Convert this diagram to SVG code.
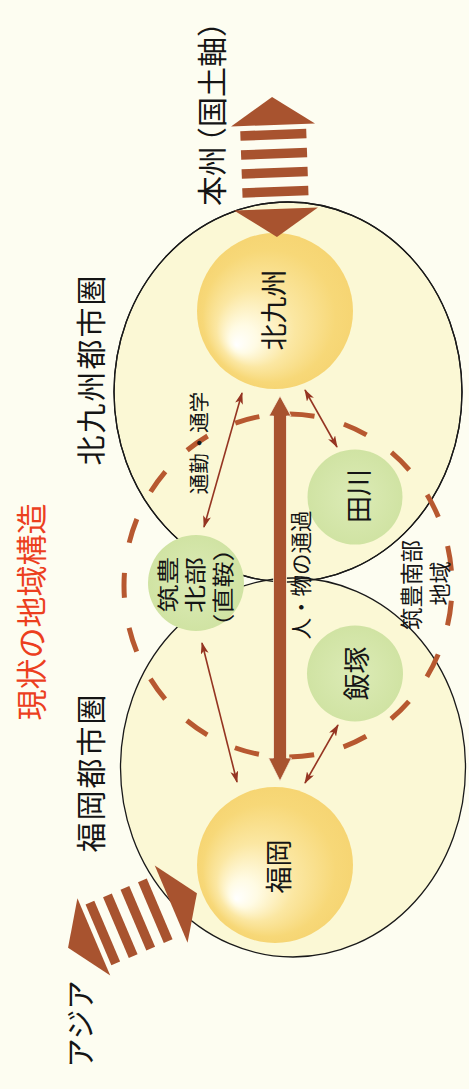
<svg xmlns="http://www.w3.org/2000/svg" width="469" height="1089" viewBox="0 0 469 1089">
<defs>
<style>
.t{font-family:"Noto Sans CJK JP","Noto Sans CJK SC",sans-serif;text-anchor:middle;dominant-baseline:central;fill:#151515}
.area{fill:#fbf8d5;stroke:#1a1a1a;stroke-width:1.3}
.green{fill:url(#grn)}
.thin{fill:none;stroke:#953522;stroke-width:1.6;marker-start:url(#ah);marker-end:url(#ah)}
.brown{fill:#a8532f}
</style>
<radialGradient id="sph" cx="0.5" cy="0.5" r="0.5" fx="0.25" fy="0.72">
<stop offset="0" stop-color="#ffffff"/>
<stop offset="0.18" stop-color="#fffbe4"/>
<stop offset="0.5" stop-color="#fbe7a2"/>
<stop offset="0.85" stop-color="#f7d878"/>
<stop offset="1" stop-color="#f6d573"/>
</radialGradient>
<radialGradient id="grn" cx="0.5" cy="0.5" r="0.5">
<stop offset="0" stop-color="#dcebb6"/>
<stop offset="1" stop-color="#d0e3a3"/>
</radialGradient>
<marker id="ah" viewBox="0 0 12 8" refX="11" refY="4" markerWidth="12" markerHeight="8" markerUnits="userSpaceOnUse" orient="auto-start-reverse">
<path d="M0,0 L12,4 L0,8 L3,4 Z" fill="#953522"/>
</marker>
<g id="striped">
<polygon points="0,-70 42,-42 -42,-42"/>
<rect x="-33" y="-37" width="66" height="9.5"/>
<rect x="-33" y="-18" width="66" height="9.5"/>
<rect x="-33" y="1" width="66" height="9.5"/>
<rect x="-33" y="20" width="66" height="9.5"/>
<polygon points="-42,42 42,42 0,70"/>
</g>
</defs>
<rect x="0" y="0" width="469" height="1089" fill="#fdfdf1"/>

<g id="kitakyushu-area">
<ellipse class="area" cx="288" cy="392" rx="174" ry="190"/>
</g>
<g id="fukuoka-area">
<ellipse class="area" cx="293" cy="767.5" rx="172.5" ry="189.5"/>
<ellipse cx="288" cy="392" rx="174" ry="190" fill="none" stroke="#1a1a1a" stroke-width="1.3"/>
</g>

<g id="kitakyushu">
<circle cx="275" cy="311" r="78" fill="url(#sph)"/>
<text class="t" transform="translate(272,310) rotate(-90)" font-size="27">北九州</text>
</g>
<g id="fukuoka">
<circle cx="275" cy="865" r="78" fill="url(#sph)"/>
<text class="t" transform="translate(277,866.5) rotate(-90)" font-size="27">福岡</text>
</g>
<g id="tagawa">
<circle class="green" cx="355" cy="497" r="47.5"/>
<text class="t" transform="translate(357,496) rotate(-90)" font-size="27">田川</text>
</g>
<g id="iizuka">
<circle class="green" cx="355" cy="673.5" r="48"/>
<text class="t" transform="translate(355,673.5) rotate(-90)" font-size="27">飯塚</text>
</g>
<g id="chikuho-north">
<circle class="green" cx="196" cy="583" r="48"/>
<text class="t" transform="translate(166,584.5) rotate(-90)" font-size="22" textLength="56" lengthAdjust="spacingAndGlyphs">筑豊</text>
<text class="t" transform="translate(193,585) rotate(-90)" font-size="22" textLength="56" lengthAdjust="spacingAndGlyphs">北部</text>
<text class="t" transform="translate(220.5,587.5) rotate(-90)" font-size="22" textLength="104" lengthAdjust="spacingAndGlyphs">（直鞍）</text>
</g>
<g id="chikuho-south">
<ellipse cx="288" cy="585.5" rx="164" ry="171.5" fill="none" stroke="#b75830" stroke-width="5" stroke-dasharray="25 30.48" stroke-dashoffset="40.24"/>
<text class="t" transform="translate(410,585) rotate(-90)" font-size="22.5">筑豊南部</text>
<text class="t" transform="translate(437.5,583.5) rotate(-90)" font-size="22">地域</text>
</g>

<g id="connectors">
<line class="thin" x1="242" y1="393" x2="204" y2="527"/>
<line class="thin" x1="305" y1="390" x2="337" y2="447"/>
<line class="thin" x1="202" y1="643" x2="237" y2="782"/>
<line class="thin" x1="338" y1="725" x2="305" y2="783"/>
<path class="brown" stroke="#fbf2dc" stroke-width="0.8" d="M280,396 L291,416 L286.5,416 L286.5,758 L291.5,758 L280,781 L268.5,758 L273.5,758 L273.5,416 L269,416 Z"/>
<use href="#striped" class="brown" transform="translate(274.5,167) rotate(-2)"/>
<use href="#striped" class="brown" transform="translate(132.5,920.5) rotate(-113)"/>
<text class="t" transform="translate(197.5,443) rotate(-90)" font-size="20.5">通勤・通学</text>
<text class="t" transform="translate(299,575) rotate(-90)" font-size="21.5">人・物の通過</text>
</g>

<g id="labels">
<text class="t" transform="translate(29,612) rotate(-90)" font-size="31" style="fill:#ec3f1e">現状の地域構造</text>
<text class="t" transform="translate(89,370.5) rotate(-90)" font-size="30" textLength="190">北九州都市圏</text>
<text class="t" transform="translate(89,773.5) rotate(-90)" font-size="30" textLength="158">福岡都市圏</text>
<text class="t" transform="translate(210,206) rotate(-90)" font-size="30" style="text-anchor:start">本州<tspan dx="-11">（</tspan>国土軸）</text>
<text class="t" transform="translate(78,1024) rotate(-90)" font-size="29.5">アジア</text>
</g>
</svg>
